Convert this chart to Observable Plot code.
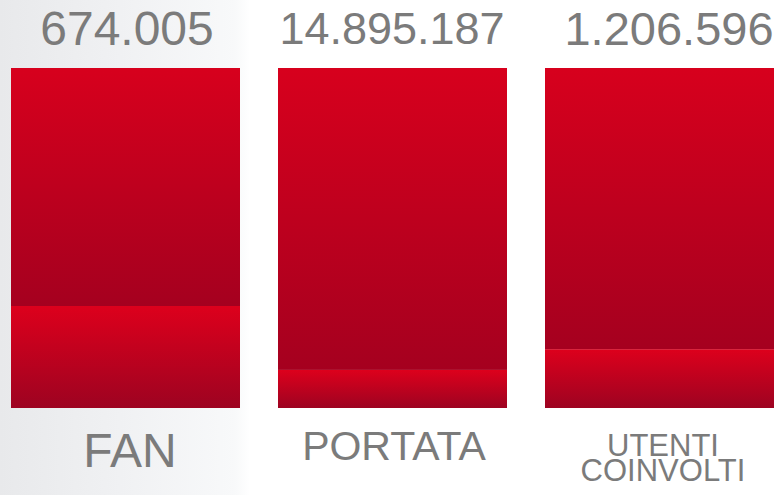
<!DOCTYPE html>
<html>
<head>
<meta charset="utf-8">
<script src="https://cdn.jsdelivr.net/npm/d3@7"></script>
<script src="https://cdn.jsdelivr.net/npm/@observablehq/plot@0.6"></script>
<style>
  html, body { margin: 0; padding: 0; }
  body {
    width: 775px; height: 495px; overflow: hidden;
    background: linear-gradient(to right, #e8e9eb 0px, #f0f1f3 120px, #f8f9fa 235px, #ffffff 250px, #ffffff 775px);
    font-family: "Liberation Sans", Arial, sans-serif;
  }
  #chart svg { display: block; background: transparent; }
</style>
</head>
<body>
<div id="chart"></div>
<script>
// Categories, displayed values, and the split of each bar (percent of the full bar)
const categories = ["FAN", "PORTATA", "UTENTI COINVOLTI"];
const categoryLabels = ["FAN", "PORTATA", "UTENTI\nCOINVOLTI"];
const valueLabels = ["674.005", "14.895.187", "1.206.596"];
const lowerShare = [30.0, 11.2, 17.3];   // bottom segment, % of bar
const upperShare = [70.0, 88.8, 82.7];   // top segment, % of bar

const rows = categories.map((c, i) => ({
  cat: c,
  label: categoryLabels[i],
  value: valueLabels[i],
  low: lowerShare[i],
  total: lowerShare[i] + upperShare[i]
}));

// styling (not data)
const textColor = "#7b7b7b";
const labelStyle = {
  "FAN": {size: 48, dy: 46, dx: 4},
  "PORTATA": {size: 41, dy: 41, dx: 1},
  "UTENTI COINVOLTI": {size: 31, dy: 52, dx: 3}
};
const valueStyle = {
  "FAN": {size: 48, dx: 1},
  "PORTATA": {size: 45, dx: -1},
  "UTENTI COINVOLTI": {size: 47, dx: 9}
};

const labelMarks = rows.map(r => Plot.text([r], {
  x: "cat",
  text: "label",
  frameAnchor: "bottom",
  lineAnchor: "middle",
  dy: labelStyle[r.cat].dy,
  dx: labelStyle[r.cat].dx,
  fontSize: labelStyle[r.cat].size,
  lineHeight: 0.82,
  fill: textColor,
  textAnchor: "middle"
}));

const valueMarks = rows.map(r => Plot.text([r], {
  x: "cat", y: "total", text: "value",
  lineAnchor: "middle",
  dy: -38.5,
  dx: valueStyle[r.cat].dx,
  fontSize: valueStyle[r.cat].size,
  fill: textColor, textAnchor: "middle"
}));

const chart = Plot.plot({
  width: 775,
  height: 495,
  marginLeft: 11,
  marginRight: 0,
  marginTop: 68,
  marginBottom: 87,
  style: {background: "transparent", fontFamily: "'Liberation Sans', Arial, sans-serif"},
  x: {domain: categories, paddingInner: 0.142, paddingOuter: 0, axis: null},
  y: {domain: [0, 100], axis: null},
  marks: [
    Plot.barY(rows, {x: "cat", y1: 0, y2: "low", fill: "url(#gradLow)", inset: 0}),
    Plot.barY(rows, {x: "cat", y1: "low", y2: "total", fill: "url(#gradHigh)", inset: 0}),
    ...valueMarks,
    ...labelMarks
  ]
});

// vertical gradients applied per bar segment
const svg = d3.select(chart);
const defs = svg.insert("defs", ":first-child");
const gHigh = defs.append("linearGradient").attr("id", "gradHigh")
  .attr("x1", 0).attr("y1", 0).attr("x2", 0).attr("y2", 1);
gHigh.append("stop").attr("offset", "0%").attr("stop-color", "#d7001d");
gHigh.append("stop").attr("offset", "100%").attr("stop-color", "#a5001f");
const gLow = defs.append("linearGradient").attr("id", "gradLow")
  .attr("x1", 0).attr("y1", 0).attr("x2", 0).attr("y2", 1);
gLow.append("stop").attr("offset", "0%").attr("stop-color", "#dd001c");
gLow.append("stop").attr("offset", "100%").attr("stop-color", "#9d0321");

document.getElementById("chart").appendChild(chart);
</script>
</body>
</html>
